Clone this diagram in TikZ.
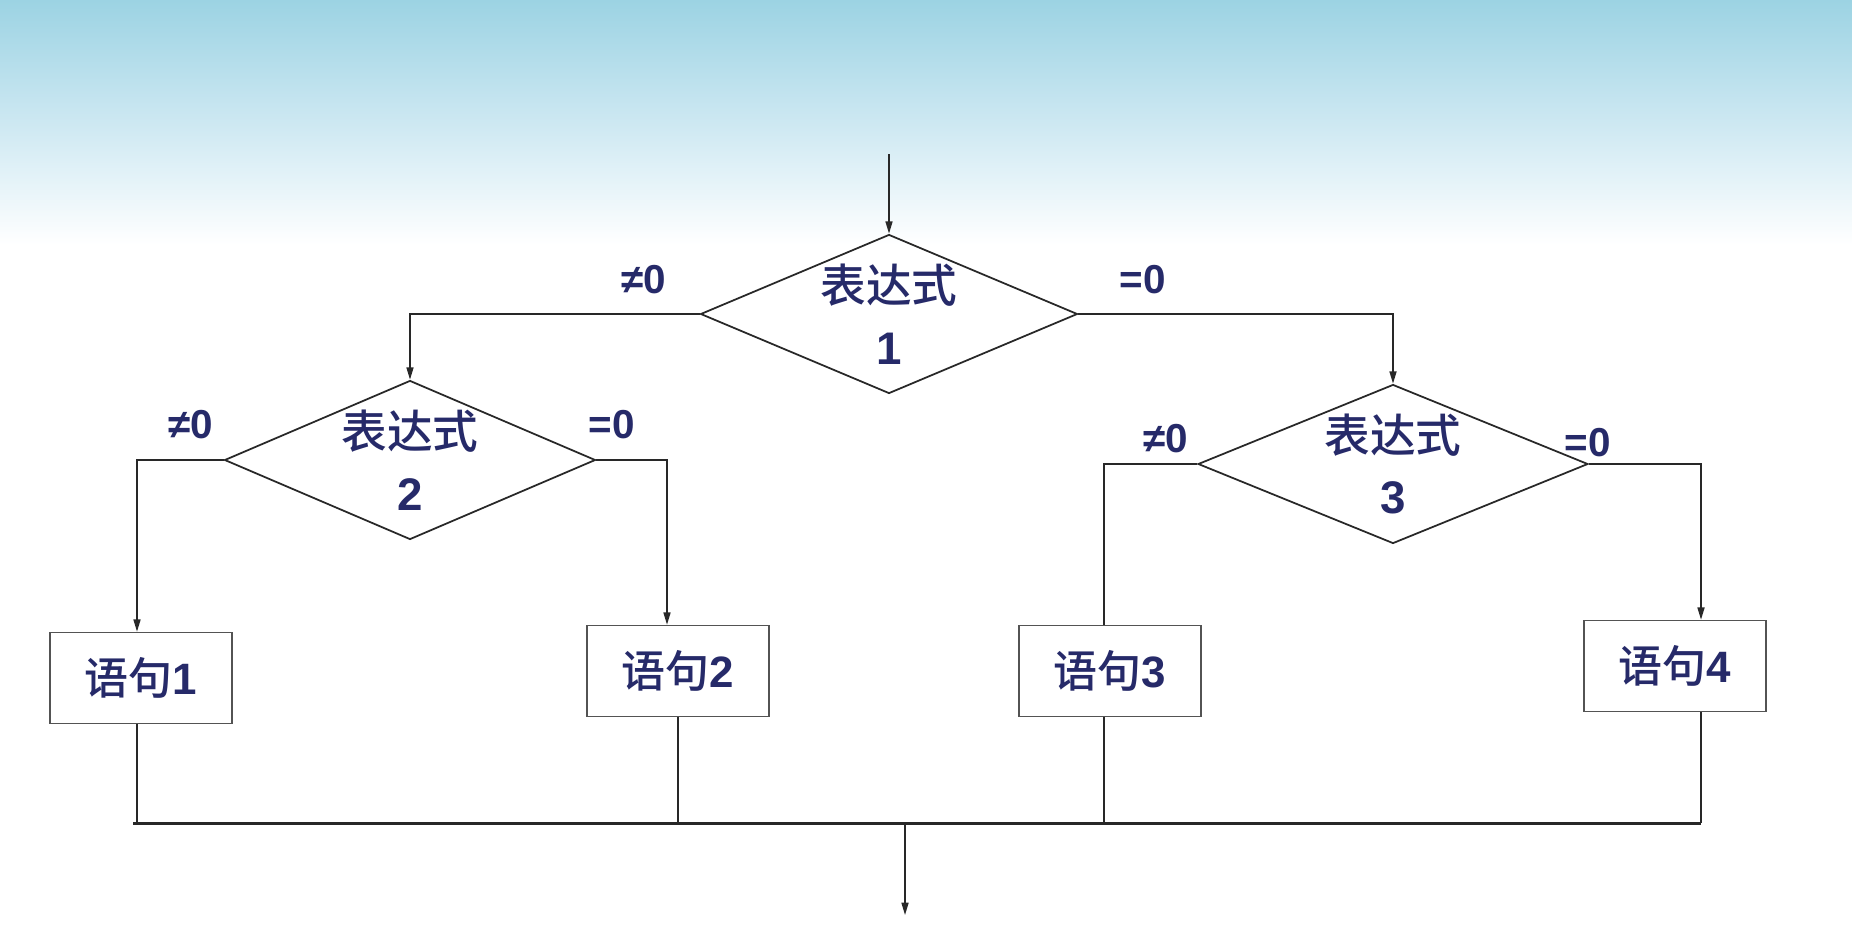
\documentclass[tikz,border=0pt]{standalone}
\usepackage{fontspec}
\setmainfont{Liberation Sans}
\newfontfamily\cjkfam{Noto Sans CJK SC Medium}
\newcommand\zh[1]{{\cjkfam\mdseries #1}}
\usetikzlibrary{shapes.geometric,arrows.meta,calc}
\definecolor{skytop}{RGB}{156,211,227}
\definecolor{skymid}{RGB}{205,232,242}
\definecolor{navytext}{RGB}{38,42,105}
\definecolor{inkline}{RGB}{40,40,40}
\begin{document}
\begin{tikzpicture}[x=0.02cm,y=-0.02cm,
  decision/.style={diamond,draw=inkline,line width=1pt,inner sep=0pt,
    minimum width=#1,minimum height=3.18cm},
  decision/.default=7.5cm,
  stmt/.style={rectangle,draw=inkline!80,line width=0.9pt,fill=white,
    minimum width=3.64cm,minimum height=1.82cm,inner sep=0pt,
    text=navytext,font=\fontsize{25}{30}\selectfont\bfseries},
  dtext/.style={align=center,text=navytext,
    font=\fontsize{26}{35}\selectfont\bfseries},
  branch/.style={text=navytext,font=\fontsize{23}{28}\selectfont\bfseries},
  conn/.style={draw=inkline,line width=0.85pt},
  arr/.style={conn,-{Triangle[length=7pt,width=4pt]}},
  bus/.style={draw=inkline,line width=1.7pt}]

% page and header band
\useasboundingbox (0,0) rectangle (1852,930);
\fill[white] (0,0) rectangle (1852,930);
\shade[top color=skytop,bottom color=white,middle color=skymid] (0,0) rectangle (1852,245);

% decisions
\node[decision=7.54cm] (d1) at (889,314) {};
\node[dtext] (d1t) at (d1.center) {\zh{表达式}\\1};
\node[decision=7.42cm] (d2) at (410,460) {};
\node[dtext] (d2t) at (d2.center) {\zh{表达式}\\2};
\node[decision=7.8cm] (d3) at (1393,464) {};
\node[dtext] (d3t) at (d3.center) {\zh{表达式}\\3};

% statements
\node[stmt] (b1) at (141,678) {\zh{语句}1};
\node[stmt] (b2) at (678,671) {\zh{语句}2};
\node[stmt] (b3) at (1110,671) {\zh{语句}3};
\node[stmt] (b4) at (1675,666) {\zh{语句}4};

% branch labels
\node[branch] (l1a) at (644,280) {≠0};
\node[branch] (l1b) at (1143,280) {=0};
\node[branch] (l2a) at (191,425) {≠0};
\node[branch] (l2b) at (612,425) {=0};
\node[branch] (l3a) at (1166,439) {≠0};
\node[branch] (l3b) at (1588,443) {=0};

% entry, exit and junction points
\coordinate (entry) at (889,154);
\coordinate (busL) at (133,823);
\coordinate (busR) at (1701,823);
\coordinate (busM) at (905,823);
\coordinate (exit) at (905,915);

% connectors
\draw[arr] (entry) -- (d1.north);
\draw[arr] (d1.west) -| (d2.north);
\draw[arr] (d1.east) -| (d3.north);
\draw[arr] (d2.west) -| ([xshift=-0.08cm]b1.north);
\draw[arr] (d2.east) -| ([xshift=-0.22cm]b2.north);
\draw[conn] (d3.west) -| ([xshift=-0.12cm]b3.north);
\draw[arr] (d3.east) -| ([xshift=0.52cm]b4.north);

\draw[conn] ([xshift=-0.08cm]b1.south) -- ([xshift=-0.08cm]b1.south |- busL);
\draw[conn] (b2.south) -- (b2.south |- busL);
\draw[conn] ([xshift=-0.12cm]b3.south) -- ([xshift=-0.12cm]b3.south |- busL);
\draw[conn] ([xshift=0.52cm]b4.south) -- ([xshift=0.52cm]b4.south |- busL);
\draw[bus] (busL) -- (busR);
\draw[arr] (busM) -- (exit);
\end{tikzpicture}
\end{document}
